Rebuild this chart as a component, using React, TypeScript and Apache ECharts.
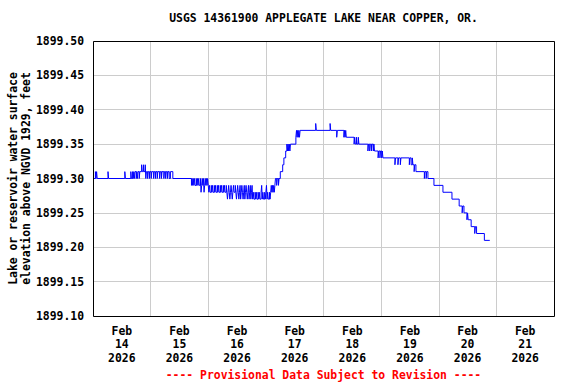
import React, { useEffect, useRef } from 'react';
import * as echarts from 'echarts';

const TITLE = 'USGS 14361900 APPLEGATE LAKE NEAR COPPER, OR.';
const Y_NAME = ['Lake or reservoir water surface', 'elevation above NGVD 1929, feet'];
const FOOTER = '---- Provisional Data Subject to Revision ----';
const dayLabels = ['Feb\n14\n2026', 'Feb\n15\n2026', 'Feb\n16\n2026', 'Feb\n17\n2026', 'Feb\n18\n2026', 'Feb\n19\n2026', 'Feb\n20\n2026', 'Feb\n21\n2026'];
const Y_MIN = 1899.1;
const Y_MAX = 1899.5;
const Y_STEP = 0.05;
const X_HOURS = 192; // Feb 14 00:00 .. Feb 22 00:00

// [hours since 2026-02-14 00:00, lake elevation in feet]
const feb14: [number, number][] = [
  [0, 1899.30], [1.0, 1899.31], [1.25, 1899.30], [1.5, 1899.31], [1.75, 1899.30], [6.25, 1899.31], [6.5, 1899.30],
  [13.25, 1899.31], [13.5, 1899.30], [15.75, 1899.31], [16.0, 1899.30], [16.5, 1899.31], [16.75, 1899.30],
  [17.0, 1899.31], [17.25, 1899.30], [17.5, 1899.31], [18.0, 1899.30], [18.25, 1899.31], [18.5, 1899.30],
  [18.75, 1899.31], [19.25, 1899.30], [19.5, 1899.31], [20.25, 1899.32], [20.5, 1899.31], [21.0, 1899.32],
  [21.25, 1899.31], [21.75, 1899.32], [22.0, 1899.30], [22.25, 1899.31], [22.75, 1899.30], [23.0, 1899.31],
  [23.5, 1899.30], [23.75, 1899.31],
];
const feb15: [number, number][] = [
  [24.25, 1899.30], [24.5, 1899.31], [25.25, 1899.30], [25.5, 1899.31], [26.0, 1899.30], [26.25, 1899.31],
  [26.75, 1899.30], [27.0, 1899.31], [27.75, 1899.30], [28.0, 1899.31], [28.5, 1899.30], [28.75, 1899.31],
  [29.5, 1899.30], [29.75, 1899.31], [30.25, 1899.30], [30.5, 1899.31], [31.0, 1899.30], [31.25, 1899.31],
  [31.75, 1899.30], [32.25, 1899.31], [33.25, 1899.30],
  [41.0, 1899.29], [41.25, 1899.30], [41.5, 1899.29], [41.75, 1899.30], [42.0, 1899.29], [42.25, 1899.30],
  [42.5, 1899.29], [43.0, 1899.30], [43.25, 1899.29], [43.5, 1899.30], [43.75, 1899.29], [44.0, 1899.30],
  [44.25, 1899.29], [44.75, 1899.30], [45.0, 1899.28], [45.25, 1899.29], [45.5, 1899.30], [45.75, 1899.29],
  [46.0, 1899.30], [46.25, 1899.28], [46.5, 1899.29], [46.75, 1899.30], [47.0, 1899.29], [47.25, 1899.30],
  [47.5, 1899.29], [47.75, 1899.30],
];
const feb16: [number, number][] = [
  [48.0, 1899.29], [48.25, 1899.28], [48.5, 1899.29], [48.75, 1899.28], [49.25, 1899.29], [49.5, 1899.28],
  [49.75, 1899.29], [50.0, 1899.28], [50.5, 1899.29], [50.75, 1899.28], [51.0, 1899.29], [51.25, 1899.28],
  [51.75, 1899.29], [52.0, 1899.28], [52.25, 1899.29], [52.5, 1899.28], [53.0, 1899.29], [53.25, 1899.28],
  [53.5, 1899.29], [53.75, 1899.28], [54.25, 1899.29], [54.5, 1899.28], [54.75, 1899.29], [55.0, 1899.28],
  [55.5, 1899.29], [55.75, 1899.28], [56.0, 1899.27], [56.25, 1899.28], [56.5, 1899.29], [56.75, 1899.28],
  [57.0, 1899.27], [57.25, 1899.28], [57.5, 1899.29], [57.75, 1899.28], [58.0, 1899.27], [58.25, 1899.28],
  [58.5, 1899.29], [58.75, 1899.28], [59.25, 1899.29], [59.5, 1899.28], [59.75, 1899.27], [60.0, 1899.28],
  [60.25, 1899.29], [60.5, 1899.28], [60.75, 1899.27], [61.0, 1899.28], [61.25, 1899.29], [61.5, 1899.27],
  [61.75, 1899.28], [62.0, 1899.29], [62.25, 1899.28], [62.5, 1899.27], [62.75, 1899.28], [63.0, 1899.29],
  [63.25, 1899.27], [63.5, 1899.28], [63.75, 1899.29], [64.0, 1899.28], [64.25, 1899.27], [64.5, 1899.28],
  [64.75, 1899.29], [65.0, 1899.27], [65.25, 1899.28], [65.5, 1899.29], [65.75, 1899.27], [66.0, 1899.28],
  [66.25, 1899.29], [66.5, 1899.27], [66.75, 1899.28], [67.0, 1899.27], [67.5, 1899.28], [67.75, 1899.27],
  [68.0, 1899.28], [68.25, 1899.27], [68.75, 1899.28], [69.0, 1899.27], [69.25, 1899.28], [69.5, 1899.27],
  [70.0, 1899.28], [70.25, 1899.29], [70.5, 1899.27], [70.75, 1899.28], [71.0, 1899.27], [71.5, 1899.28],
  [71.75, 1899.27], [72.0, 1899.28], [72.25, 1899.29], [72.5, 1899.27], [72.75, 1899.28], [73.0, 1899.27],
  [73.5, 1899.28], [73.75, 1899.27], [74.0, 1899.28], [74.25, 1899.29], [74.5, 1899.28], [74.75, 1899.29],
  [75.0, 1899.28], [75.25, 1899.29], [75.5, 1899.28], [75.75, 1899.29], [76.0, 1899.30], [76.5, 1899.29],
  [76.75, 1899.30], [77.25, 1899.29], [77.5, 1899.30], [78.0, 1899.31], [79.0, 1899.32], [79.5, 1899.33],
  [80.25, 1899.34], [80.75, 1899.35], [81.0, 1899.34], [81.25, 1899.35], [81.5, 1899.34], [81.75, 1899.35],
  [82.0, 1899.34], [82.25, 1899.35], [84.5, 1899.36], [84.75, 1899.37], [85.0, 1899.36], [85.25, 1899.37],
  [85.5, 1899.36], [85.75, 1899.37], [86.0, 1899.36], [86.25, 1899.37],
];
const feb17: [number, number][] = [
  [92.75, 1899.38], [93.0, 1899.37], [98.75, 1899.38], [99.0, 1899.37], [101.5, 1899.36], [101.75, 1899.37],
  [104.5, 1899.36], [104.75, 1899.37], [105.0, 1899.36], [105.25, 1899.37], [105.5, 1899.36],
  [108.75, 1899.35], [109.0, 1899.36], [109.25, 1899.35], [109.75, 1899.36], [110.0, 1899.35], [110.5, 1899.36],
  [110.75, 1899.35], [114.5, 1899.34], [114.75, 1899.35], [115.25, 1899.34], [115.5, 1899.35], [116.0, 1899.34],
  [116.25, 1899.35], [116.75, 1899.34], [117.0, 1899.35], [117.25, 1899.34], [118.75, 1899.33], [119.0, 1899.34],
  [119.5, 1899.33], [119.75, 1899.34],
];
const feb18to20: [number, number][] = [
  [120.25, 1899.33], [120.5, 1899.34], [120.75, 1899.33], [125.75, 1899.32], [126.0, 1899.33], [127.0, 1899.32],
  [127.25, 1899.33], [128.0, 1899.32], [128.25, 1899.33], [131.75, 1899.32], [132.0, 1899.33], [132.5, 1899.32],
  [133.0, 1899.33], [133.25, 1899.32], [133.75, 1899.31], [134.0, 1899.32], [134.5, 1899.31], [138.0, 1899.30],
  [138.25, 1899.31], [138.75, 1899.30], [139.0, 1899.31], [139.5, 1899.30], [142.0, 1899.29], [145.75, 1899.28],
  [149.5, 1899.27], [152.5, 1899.26], [153.75, 1899.25], [154.0, 1899.26], [154.5, 1899.25], [155.75, 1899.24],
  [156.0, 1899.25], [156.25, 1899.24], [157.5, 1899.23], [159.0, 1899.22], [159.25, 1899.23], [159.75, 1899.22],
  [163.0, 1899.21], [165.25, 1899.21],
];

const FONT = '"DejaVu Sans Mono", "Liberation Mono", monospace';

export default function App() {
  const ref = useRef<HTMLDivElement>(null);
  useEffect(() => {
    if (!ref.current) return;
    const chart = echarts.init(ref.current, null, { renderer: 'svg' });
    const data = [...feb14, ...feb15, ...feb16, ...feb17, ...feb18to20];
    const gl = 93, gt = 41, gw = 461, gh = 275;
    chart.setOption({
      animation: false,
      backgroundColor: '#fff',
      grid: { left: gl, top: gt, width: gw, height: gh, containLabel: false },
      xAxis: [
        {
          type: 'value', min: 0, max: X_HOURS, interval: 24,
          axisLabel: { show: false }, axisTick: { show: false }, axisLine: { show: false },
          splitLine: { show: true, lineStyle: { color: '#cccccc', width: 1 } },
        },
        {
          type: 'category', data: dayLabels, boundaryGap: true, position: 'bottom',
          axisLine: { show: false }, axisTick: { show: false }, splitLine: { show: false },
          axisLabel: { interval: 0, margin: 8, color: '#000', fontFamily: FONT, fontWeight: 'bold', fontSize: 11.4, lineHeight: 13.5 },
        },
      ],
      yAxis: {
        type: 'value', min: Y_MIN, max: Y_MAX, interval: Y_STEP,
        axisLine: { show: false }, axisTick: { show: false },
        splitLine: { show: true, lineStyle: { color: '#cccccc', width: 1 } },
        axisLabel: { margin: 9, color: '#000', fontFamily: FONT, fontWeight: 'bold', fontSize: 11.4, formatter: (v: number) => v.toFixed(2) },
      },
      graphic: [
        { type: 'rect', z: 100, silent: true, shape: { x: gl + 0.5, y: gt + 0.5, width: gw, height: gh }, style: { fill: 'none', stroke: '#000', lineWidth: 1 } },
        { type: 'text', x: gl + gw / 2, y: 18, style: { text: TITLE, fill: '#000', font: `bold 11.4px ${FONT}`, textAlign: 'center', textVerticalAlign: 'middle' } },
        { type: 'text', x: 19, y: gt + gh / 2, rotation: Math.PI / 2, style: { text: Y_NAME.join('\n'), fill: '#000', font: `bold 11.4px ${FONT}`, textAlign: 'center', textVerticalAlign: 'middle', lineHeight: 13 } },
        { type: 'text', x: gl + gw / 2, y: 375, style: { text: FOOTER, fill: '#ff0000', font: `bold 11.4px ${FONT}`, textAlign: 'center', textVerticalAlign: 'middle' } },
      ],
      series: [
        {
          type: 'line', xAxisIndex: 0, step: 'end', data, showSymbol: false, symbol: 'none',
          lineStyle: { color: '#0000ff', width: 1 }, silent: true,
        },
      ],
    });
    return () => chart.dispose();
  }, []);
  return <div ref={ref} style={{ width: 576, height: 384, position: 'absolute', left: 0, top: 0 }} />;
}
